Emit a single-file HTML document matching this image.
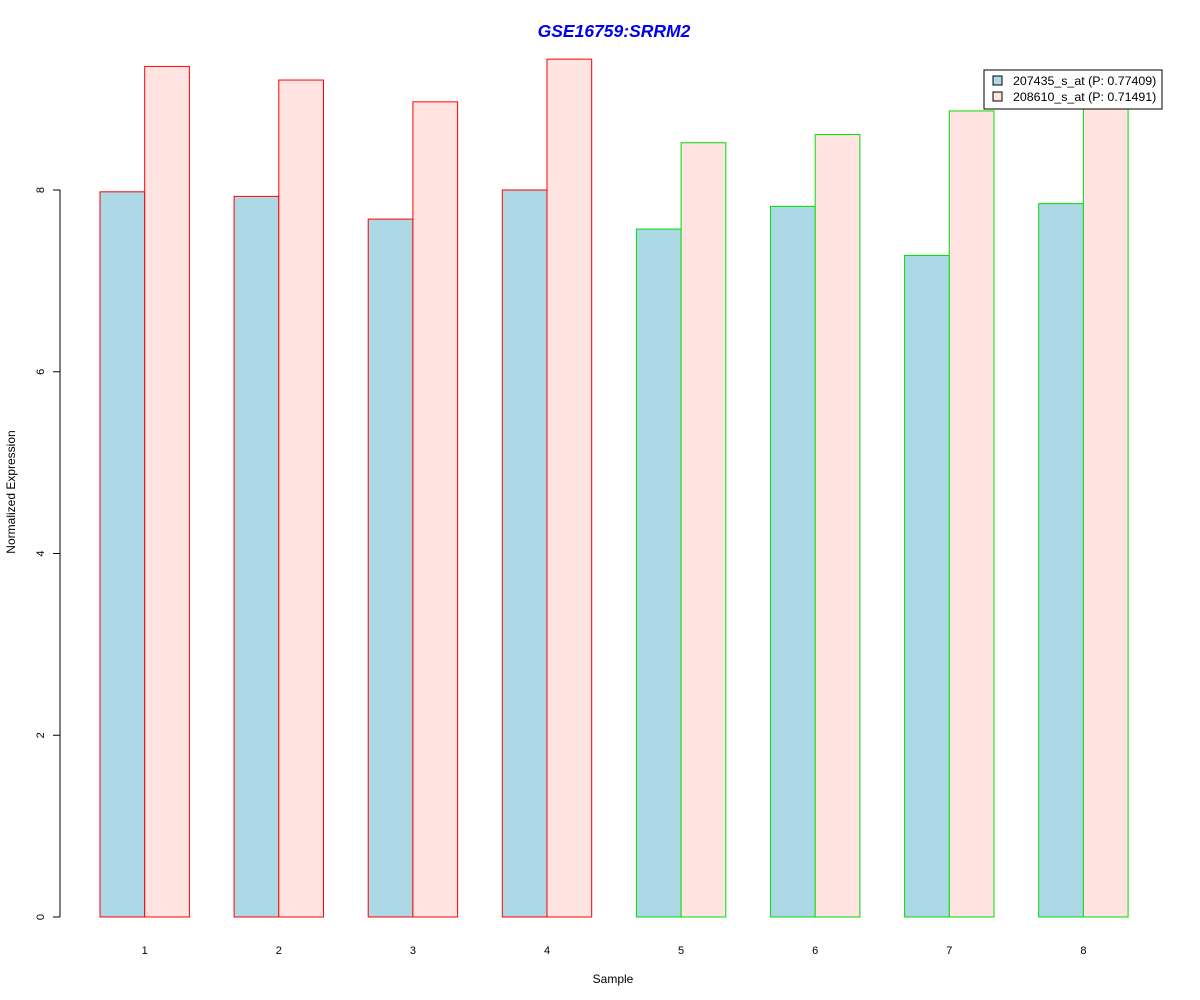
<!DOCTYPE html>
<html><head><meta charset="utf-8"><style>body{margin:0;background:#fff}svg{display:block;font-family:"Liberation Sans",sans-serif}</style></head>
<body>
<svg id="chart" width="1200" height="1000">
<text x="614" y="37" text-anchor="middle" font-size="17.5" font-weight="bold" font-style="italic" fill="#0000ee">GSE16759:SRRM2</text>
<text x="613" y="983" text-anchor="middle" font-size="12">Sample</text>
<text transform="translate(15,492) rotate(-90)" text-anchor="middle" font-size="12">Normalized Expression</text>
<g id="bars"></g><g id="axis"></g>
<g>
<rect x="984" y="70" width="178" height="39" fill="#fff" stroke="#000"/>
<rect x="993" y="76" width="9" height="9" fill="#add8e6" stroke="#000"/>
<text x="1013" y="85" font-size="12.4">207435_s_at (P: 0.77409)</text>
<rect x="993" y="92" width="9" height="9" fill="#ffe4e1" stroke="#000"/>
<text x="1013" y="101" font-size="12.4">208610_s_at (P: 0.71491)</text>
</g>
</svg>
<script>
const samples=["1","2","3","4","5","6","7","8"];
const series1=[7.98,7.93,7.68,8.0,7.57,7.82,7.28,7.85];
const series2=[9.36,9.21,8.97,9.44,8.52,8.61,8.87,9.0];
const groupColors=["red","red","red","red","#00dd00","#00dd00","#00dd00","#00dd00"];
const yTicks=[0,2,4,6,8];
const NS="http://www.w3.org/2000/svg";
const y=v=>917-v*90.875;
const gx=i=>100+i*134.1;
const bw=44.7;
const bars=document.getElementById('bars'),axis=document.getElementById('axis');
function mk(t,a,p){const e=document.createElementNS(NS,t);for(const k in a)e.setAttribute(k,a[k]);p.appendChild(e);return e;}
samples.forEach((s,i)=>{
 const b1=mk('rect',{x:gx(i),y:y(series1[i]),width:bw,height:y(0)-y(series1[i]),fill:'#add8e6',stroke:groupColors[i]},bars);
 
 
 const b2=mk('rect',{x:gx(i)+bw,y:y(series2[i]),width:bw,height:y(0)-y(series2[i]),fill:'#ffe4e1',stroke:groupColors[i]},bars);
 
 
 const t=mk('text',{x:gx(i)+bw,y:954,'text-anchor':'middle','font-size':11},axis);
 t.textContent=s;
 
 
});
mk('line',{x1:60,x2:60,y1:y(8),y2:y(0),stroke:'#000'},axis);
yTicks.forEach(v=>{
 mk('line',{x1:53,x2:60,y1:y(v),y2:y(v),stroke:'#000'},axis);
 const t=mk('text',{transform:`translate(44,${y(v)}) rotate(-90)`,'text-anchor':'middle','font-size':11},axis);
 t.textContent=v;
 
 
});
</script>
</body></html>
